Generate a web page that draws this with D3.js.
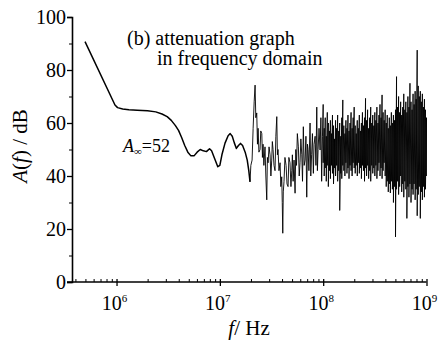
<!DOCTYPE html>
<html>
<head>
<meta charset="utf-8">
<script src="https://cdn.jsdelivr.net/npm/d3@7"></script>
<style>
  body { margin: 0; background: #fff; }
  svg text { font-family: "Times New Roman", "Liberation Serif", Tinos, "Noto Serif", "DejaVu Serif", Times, serif; fill: #000; }
</style>
</head>
<body>
<div id="chart"></div>
<script>
// tick values
const yTicks = [0, 20, 40, 60, 80, 100];
const yMinorTicks = [10, 30, 50, 70, 90];
const xDecades = [6, 7, 8, 9];

// smooth low-frequency part: [log10 f, A (dB)]
const smoothCurve = [
  [5.695, 90.7], [5.985, 66.8], [6.01, 65.8], [6.06, 65.3], [6.12, 65.0], [6.2, 64.8],
  [6.3, 64.6], [6.38, 64.2], [6.44, 63.4], [6.49, 62.4], [6.53, 61.0], [6.57, 59.0],
  [6.60, 57.2], [6.63, 54.5], [6.66, 51.5], [6.69, 49.0], [6.72, 47.6], [6.75, 47.6],
  [6.78, 49.0], [6.81, 50.0], [6.84, 49.5], [6.87, 49.2], [6.90, 50.3], [6.92, 49.5],
  [6.95, 46.5], [6.98, 43.5], [7.00, 44.0], [7.02, 48.0], [7.05, 52.4], [7.08, 55.2],
  [7.10, 56.0], [7.12, 55.0], [7.14, 52.5], [7.16, 50.4], [7.18, 51.5], [7.20, 52.3],
  [7.22, 51.5], [7.245, 49.0], [7.265, 46.0], [7.28, 42.0], [7.292, 37.8]
];

// noisy part: [log10 f, A (dB)]
const noisyCurve = [
  [7.292, 37.8], [7.300, 44], [7.312, 46], [7.322, 58], [7.332, 68], [7.341, 74.3], [7.348, 62],
  [7.357, 63.8], [7.364, 52], [7.370, 58], [7.378, 49], [7.389, 50], [7.396, 57], [7.406, 56],
  [7.412, 47], [7.418, 52], [7.426, 44], [7.437, 51], [7.445, 40], [7.454, 31], [7.460, 47],
  [7.467, 45], [7.476, 51], [7.486, 48], [7.494, 40], [7.502, 46], [7.508, 53], [7.515, 50],
  [7.524, 44], [7.534, 42], [7.542, 55], [7.551, 62.4], [7.557, 48], [7.563, 50], [7.572, 42],
  [7.583, 45], [7.590, 36], [7.599, 39.7], [7.604, 30], [7.609, 18.4], [7.614, 34], [7.621, 38],
  [7.630, 47], [7.641, 44], [7.650, 37], [7.660, 36], [7.668, 47], [7.679, 45], [7.688, 36],
  [7.696, 42], [7.702, 48], [7.709, 38], [7.718, 46], [7.728, 33.5], [7.735, 50], [7.742, 44],
  [7.750, 56], [7.760, 51], [7.768, 40], [7.776, 45], [7.784, 54], [7.793, 48], [7.800, 38],
  [7.808, 58.6], [7.816, 44], [7.825, 46], [7.833, 55], [7.841, 32], [7.848, 52], [7.854, 50],
  [7.862, 42], [7.873, 60], [7.880, 40], [7.888, 48], [7.896, 56], [7.905, 41], [7.912, 52],
  [7.922, 55], [7.930, 44], [7.938, 66], [7.944, 42], [7.951, 50], [7.960, 58], [7.970, 49.8],
  [7.978, 62], [7.985, 38], [7.993, 55]
];

// dense high-frequency part: [log10 f, upper A, lower A]
const denseCurve = [
  [8.00, 67, 45], [8.01, 58, 40], [8.02, 62, 43], [8.03, 55, 38], [8.04, 64, 44], [8.05, 60, 36],
  [8.06, 57, 42], [8.07, 61, 39], [8.08, 56, 44], [8.09, 63, 41], [8.10, 59, 37], [8.11, 54, 43],
  [8.12, 61, 40], [8.13, 58, 44], [8.14, 63, 38], [8.15, 57, 42], [8.16, 60, 27], [8.17, 55, 41],
  [8.18, 62, 39], [8.19, 68.7, 44], [8.20, 59, 42], [8.21, 56, 40], [8.22, 61, 45], [8.23, 58, 41],
  [8.24, 63, 43], [8.25, 57, 39], [8.26, 60, 44], [8.27, 64, 42], [8.28, 58, 40], [8.29, 62, 45],
  [8.30, 66, 43], [8.31, 59, 41], [8.32, 56, 44], [8.33, 61, 40], [8.34, 58, 45], [8.35, 63, 41],
  [8.36, 57, 43], [8.37, 60, 39], [8.38, 64, 44], [8.39, 59, 42], [8.40, 62, 38], [8.41, 69.3, 43],
  [8.42, 61, 40], [8.43, 65, 44], [8.44, 58, 39], [8.45, 62, 42], [8.46, 66, 38], [8.47, 60, 44],
  [8.48, 63, 41], [8.49, 59, 43], [8.50, 64, 40], [8.51, 61, 44], [8.52, 66, 39], [8.53, 60, 42],
  [8.54, 63, 45], [8.55, 67, 40], [8.56, 62, 43], [8.57, 70.6, 39], [8.58, 64, 42], [8.59, 61, 45],
  [8.60, 65, 40], [8.61, 60, 36], [8.62, 63, 38], [8.63, 58, 34], [8.64, 62, 37], [8.65, 59, 33.6],
  [8.66, 64, 38], [8.67, 60, 35], [8.68, 63, 30], [8.69, 61, 36], [8.70, 65, 17], [8.71, 77.5, 35],
  [8.72, 66, 38], [8.73, 70, 33], [8.74, 64, 36], [8.75, 68, 40], [8.76, 63, 34], [8.77, 66, 37],
  [8.78, 71, 32], [8.79, 65, 38], [8.80, 68, 35], [8.81, 64, 24], [8.82, 70, 36], [8.83, 66, 32],
  [8.84, 75, 37], [8.85, 68, 30], [8.86, 65, 35], [8.87, 71, 33], [8.88, 67, 37], [8.89, 72, 31],
  [8.90, 69, 35], [8.91, 87.5, 25], [8.92, 74, 33], [8.93, 70, 36], [8.94, 72, 24], [8.95, 68, 34],
  [8.96, 71, 31], [8.97, 66, 36], [8.98, 69, 32], [8.99, 65, 35], [9.00, 62, 40]
];

const width = 446, height = 344;

const x = d3.scaleLog().domain([Math.pow(10, 5.569), 1e9]).range([72, 426.5]);
const y = d3.scaleLinear().domain([0, 100]).range([282, 17]);

const svg = d3.select('#chart').append('svg')
  .attr('width', width)
  .attr('height', height);

// Y axis
const yAxis = svg.append('g')
  .attr('transform', `translate(${x.range()[0]},0)`)
  .call(d3.axisLeft(y).tickValues(yTicks).tickSize(5).tickFormat(''));
yAxis.select('.domain').attr('stroke-width', 1.6);
yAxis.selectAll('.tick line').attr('stroke-width', 1.3);

svg.append('g')
  .attr('transform', `translate(${x.range()[0]},0)`)
  .call(d3.axisLeft(y).tickValues(yMinorTicks).tickSize(3).tickFormat(''))
  .call(g => g.select('.domain').remove());

svg.append('g').selectAll('text')
  .data(yTicks)
  .enter().append('text')
  .attr('x', 66)
  .attr('y', d => y(d) + 6.5)
  .attr('text-anchor', 'end')
  .style('font-size', '20px')
  .text(d => d);

// X axis
const xMajor = xDecades.map(e => Math.pow(10, e));
const xMinor = [];
[5, 6, 7, 8].forEach(e => {
  for (let k = 2; k <= 9; k++) {
    const v = k * Math.pow(10, e);
    if (v >= x.domain()[0] && v < 1e9) xMinor.push(v);
  }
});

const xAxis = svg.append('g')
  .attr('transform', `translate(0,${y(0)})`)
  .call(d3.axisBottom(x).tickValues(xMajor).tickSize(4).tickFormat(''));
xAxis.select('.domain').attr('d', `M${x.range()[0] - 5},0H${x.range()[1]}`).attr('stroke-width', 1.6);
xAxis.selectAll('.tick line').attr('y1', -3).attr('stroke-width', 1.3);

svg.append('g')
  .attr('transform', `translate(0,${y(0)})`)
  .call(d3.axisBottom(x).tickValues(xMinor).tickSize(-3).tickFormat(''))
  .call(g => g.select('.domain').remove());

const xLabels = svg.append('g').selectAll('text')
  .data(xDecades)
  .enter().append('text')
  .attr('x', d => x(Math.pow(10, d)) - 2)
  .attr('y', 310)
  .attr('text-anchor', 'middle')
  .style('font-size', '20px');
xLabels.append('tspan').text('10');
xLabels.append('tspan')
  .attr('dy', -8)
  .style('font-size', '11px')
  .text(d => d);

// axis titles
const yTitle = svg.append('text')
  .attr('transform', 'translate(27,146) rotate(-90)')
  .attr('text-anchor', 'middle')
  .style('font-size', '21px');
yTitle.append('tspan').style('font-style', 'italic').text('A');
yTitle.append('tspan').text('(');
yTitle.append('tspan').style('font-style', 'italic').text('f');
yTitle.append('tspan').text(') / dB');

const xTitle = svg.append('text')
  .attr('x', 249)
  .attr('y', 335)
  .attr('text-anchor', 'middle')
  .style('font-size', '21px');
xTitle.append('tspan').style('font-style', 'italic').text('f');
xTitle.append('tspan').text('/ Hz');

// annotation
svg.append('text')
  .attr('x', 127).attr('y', 45)
  .style('font-size', '20px')
  .text('(b) attenuation graph');
svg.append('text')
  .attr('x', 157).attr('y', 65)
  .style('font-size', '20px')
  .text('in frequency domain');

const aLabel = svg.append('text')
  .attr('x', 123).attr('y', 152)
  .style('font-size', '18px');
aLabel.append('tspan').style('font-style', 'italic').text('A');
aLabel.append('tspan').attr('dy', 3).style('font-size', '11px').text('∞');
aLabel.append('tspan').attr('dy', -3).text('=52');

// curves
const line = d3.line()
  .x(d => x(Math.pow(10, d[0])))
  .y(d => y(d[1]));

svg.append('path')
  .datum(smoothCurve)
  .attr('fill', 'none')
  .attr('stroke', '#000')
  .attr('stroke-width', 1.5)
  .attr('stroke-linejoin', 'round')
  .attr('d', line);

const densePoints = [];
denseCurve.forEach(d => {
  densePoints.push([d[0], d[1]]);
  densePoints.push([d[0], d[2]]);
});

svg.append('path')
  .datum(noisyCurve.concat(densePoints))
  .attr('fill', 'none')
  .attr('stroke', '#000')
  .attr('stroke-width', 0.9)
  .attr('d', line);
</script>
</body>
</html>
